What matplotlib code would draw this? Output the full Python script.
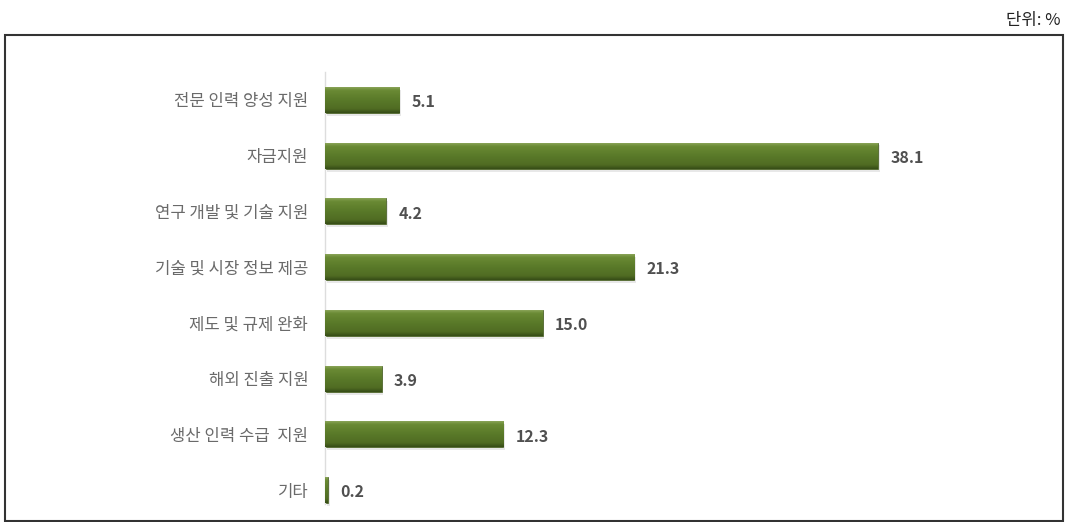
import numpy as np
import matplotlib
matplotlib.use('Agg')
import matplotlib.pyplot as plt
from matplotlib.patches import Rectangle
from matplotlib.colors import LinearSegmentedColormap

plt.rcParams['font.family'] = ['Noto Sans CJK KR', 'DejaVu Sans']

categories = ['전문 인력 양성 지원', '자금지원', '연구 개발 및 기술 지원', '기술 및 시장 정보 제공',
              '제도 및 규제 완화', '해외 진출 지원', '생산 인력 수급  지원', '기타']
values = [5.1, 38.1, 4.2, 21.3, 15.0, 3.9, 12.3, 0.2]

fig = plt.figure(figsize=(10.69, 5.22), dpi=100)

# outer frame and unit note
fig.patches.append(Rectangle((5 / 1069, 1 / 522), 1058 / 1069, 486 / 522,
                             transform=fig.transFigure, fill=False,
                             edgecolor='#333333', linewidth=1.5))
fig.text(1060 / 1069, 1 - 20 / 522, '단위: %', ha='right', va='center',
         fontsize=12, color='#222222')

ax = fig.add_axes([325 / 1069, 4 / 522, 675 / 1069, 446 / 522])
ax.set_xlim(0, 675 / 14.51)
y = np.arange(len(categories))
ax.set_ylim(len(categories) - 0.5, -0.5)

# bevelled green bars: gradient clipped to each bar
green = LinearSegmentedColormap.from_list(
    'bevel', [(0, '#93ab62'), (0.15, '#6a8a34'), (0.5, '#5a7a29'),
              (0.85, '#506c23'), (1, '#364c16')])
grad = np.linspace(0, 1, 64).reshape(-1, 1)
bars = ax.barh(y, values, height=0.47, color='#5a7a29', edgecolor='#41581c',
               linewidth=0.5, zorder=2)
for b in bars:
    x0, y0 = b.get_x(), b.get_y()
    w, h = b.get_width(), b.get_height()
    ax.add_patch(Rectangle((x0 + 0.12, y0 + 0.05), w, h, color='#cccccc',
                           alpha=0.45, zorder=1, linewidth=0))
    im = ax.imshow(grad, cmap=green, aspect='auto', zorder=3,
                   extent=(x0, x0 + w, y0 + h, y0), interpolation='bicubic')
    im.set_clip_path(b)

for yi, v in zip(y, values):
    ax.text(v + 0.85, yi + 0.04, f'{v:.1f}', va='center', ha='left',
            fontsize=11.5, fontweight='bold', color='#505050')

ax.set_yticks(y)
ax.set_yticklabels(categories, fontsize=12, color='#6a6a6a')
ax.tick_params(axis='y', length=0, pad=12)
ax.set_xticks([])
for s in ['top', 'right', 'bottom']:
    ax.spines[s].set_visible(False)
ax.spines['left'].set_color('#dddddd')
ax.spines['left'].set_linewidth(1)
ax.spines['left'].set_bounds(len(categories) - 0.75, -0.5)

fig.savefig('out.png', dpi=100)
